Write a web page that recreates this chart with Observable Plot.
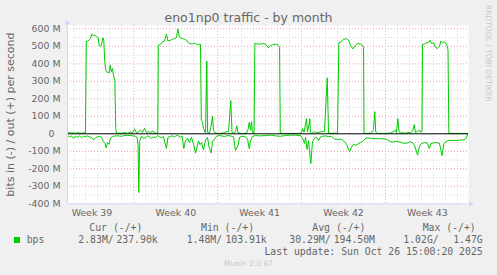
<!DOCTYPE html>
<html><head><meta charset="utf-8">
<script src="https://cdn.jsdelivr.net/npm/d3@7"></script>
<script src="https://cdn.jsdelivr.net/npm/@observablehq/plot@0.6"></script>
<style>
html,body{margin:0;padding:0;background:#f0f0f0;}
#wrap{position:relative;width:497px;height:275px;overflow:hidden;background:#f0f0f0;font-family:"DejaVu Sans",sans-serif;color:#666;}
#wrap .t{position:absolute;white-space:pre;}
#wrap .mono{font-family:"DejaVu Sans Mono",monospace;font-size:9.8px;line-height:9.8px;}
</style></head><body><div id="wrap"></div>
<script>
// ---- texts ----
const title = "eno1np0 traffic - by month";
const yLabel = "bits in (-) / out (+) per second";
const sideText = "RRDTOOL / TOBI OETIKER";
// ---- x axis: days since Mon 2025-09-22 (start of week 39) ----
const weekStartDays = [0, 7, 14, 21, 28];
const weekLabels = ["Week 39", "Week 40", "Week 41", "Week 42", "Week 43"];
// ---- y axis ticks (M bits/s) ----
const yTicks = [-400, -300, -200, -100, 0, 100, 200, 300, 400, 500, 600];
// ---- out (+) series: day, Mbit/s ----
const outDays = [1.46,1.63,1.79,1.96,2.13,2.30,2.46,2.63,2.80,2.96,
3.03,3.13,3.26,3.38,3.49,3.61,3.74,3.91,4.02,4.11,
4.24,4.32,4.41,4.49,4.57,4.66,4.74,4.94,5.02,5.13,
5.22,5.30,5.41,5.49,5.55,5.72,5.97,6.22,6.47,6.72,
6.89,7.05,7.22,7.39,7.56,7.72,7.89,8.06,8.22,8.39,
8.56,8.72,8.89,9.00,9.04,9.22,9.39,9.56,9.72,9.85,
10.06,10.23,10.39,10.56,10.67,10.77,10.89,11.06,11.23,11.39,
11.56,11.73,11.89,12.06,12.23,12.40,12.56,12.63,12.73,12.81,
12.98,13.09,13.15,13.31,13.46,13.56,13.65,13.81,13.98,14.23,
14.48,14.65,14.90,15.09,15.19,15.32,15.48,15.59,15.69,15.90,
16.15,16.40,16.53,16.63,16.74,16.82,16.90,17.03,17.10,17.24,
17.49,17.74,17.99,18.24,18.41,18.57,18.82,18.99,19.16,19.22,
19.49,20.07,20.57,20.99,21.08,21.20,21.33,21.41,21.49,21.60,
21.69,21.74,21.83,22.08,22.25,22.58,22.91,23.14,23.25,23.50,
23.75,24.00,24.11,24.25,24.42,24.52,24.75,24.91,25.14,25.29,
25.42,25.58,25.71,25.92,26.08,26.17,26.21,26.42,26.75,26.92,
27.00,27.11,27.19,27.34,27.84,28.42,28.59,28.84,28.92,29.03,
29.13,29.26,29.42,29.67,29.84,30.09,30.26,30.40,30.51,30.68,
30.84,30.93,31.05,31.09,31.26,31.43,31.59,31.70,31.85,32.01,
32.20,32.35,32.51,32.62,32.76,32.93,33.10,33.22,33.29,33.85,
34.27,34.85];
const outMbps = [5,8,3,6,2,7,4,3,6,4,
529,529,535,545,571,560,564,554,550,506,
499,516,549,535,411,363,354,349,392,354,
373,335,306,30,2,4,3,8,2,10,
5,28,5,12,22,8,32,6,14,4,
18,3,5,6,506,510,526,530,570,530,
535,540,545,550,600,560,548,545,540,535,
520,515,513,518,512,510,512,75,70,30,
4,415,8,4,49,100,20,5,2,3,
6,10,14,190,8,3,12,46,6,2,
2,4,25,65,20,70,8,3,516,514,
512,516,512,491,505,508,512,510,495,3,
2,2,2,3,30,10,53,87,10,45,
86,5,2,12,6,10,14,320,6,2,
4,3,522,522,535,541,543,535,497,485,
500,512,516,512,505,495,3,2,4,12,
25,126,10,2,2,4,10,20,6,87,
15,3,6,3,8,6,14,52,8,14,
20,10,15,510,514,520,522,535,516,520,
491,488,500,529,522,524,515,480,3,2,
2,2];
// ---- in (-) series: day, Mbit/s (drawn below zero) ----
const inDays = [1.46,1.63,1.79,1.96,2.13,2.30,2.46,2.63,2.80,2.96,
3.13,3.30,3.46,3.63,3.80,3.96,4.13,4.30,4.47,4.59,
4.69,4.80,4.92,5.05,5.22,5.47,5.72,5.97,6.22,6.47,
6.72,6.97,7.14,7.26,7.35,7.41,7.49,7.64,7.80,7.97,
8.14,8.31,8.47,8.64,8.81,8.97,9.14,9.31,9.47,9.72,
9.85,10.06,10.23,10.39,10.56,10.73,10.89,11.02,11.17,11.31,
11.48,11.64,11.81,11.98,12.15,12.29,12.40,12.52,12.65,12.81,
12.98,13.15,13.27,13.46,13.56,13.73,13.90,14.07,14.32,14.57,
14.82,15.07,15.32,15.48,15.68,15.82,16.07,16.32,16.49,16.63,
16.74,16.90,17.15,17.57,17.99,18.41,18.82,19.24,19.66,20.07,
20.49,20.91,21.08,21.24,21.33,21.45,21.58,21.77,21.91,22.08,
22.25,22.41,22.58,22.75,23.00,23.25,23.50,23.75,24.00,24.25,
24.50,24.75,25.00,25.17,25.34,25.50,25.67,25.92,26.17,26.34,
26.75,27.17,27.59,28.00,28.42,28.67,28.92,29.09,29.34,29.59,
29.84,30.09,30.26,30.42,30.68,30.84,31.01,31.26,31.51,31.65,
31.80,32.01,32.26,32.51,32.72,32.88,33.05,33.30,33.64,33.97,
34.31,34.56,34.75,34.85];
const inMbps = [10,18,12,25,15,20,12,22,14,16,
12,18,20,35,22,18,15,20,45,55,
80,50,60,25,15,12,12,14,10,10,
10,12,15,20,60,335,40,15,25,22,
12,18,28,18,22,10,18,22,15,84,
20,14,12,18,10,12,20,12,84,40,
25,50,20,60,110,70,40,62,50,93,
35,20,75,110,45,30,14,10,12,16,
10,12,18,95,70,20,14,18,30,85,
40,14,10,12,10,8,12,14,10,8,
8,10,25,55,20,90,40,170,45,25,
20,40,18,14,12,16,15,30,32,30,
40,60,103,75,60,65,60,50,40,25,
25,28,28,30,45,48,42,45,50,55,
52,45,50,65,122,70,55,50,55,84,
55,52,50,55,125,55,45,38,38,38,
35,35,25,2];
// ---- legend ----
const seriesName = "bps";
const legendHeaders = ["Cur (-/+)", "Min (-/+)", "Avg (-/+)", "Max (-/+)"];
const legendIn = ["2.83M/", "1.48M/", "30.29M/", "1.02G/"];
const legendOut = ["237.90k", "103.91k", "194.50M", "1.47G"];
const lastUpdate = "Last update: Sun Oct 26 15:00:20 2025";
const version = "Munin 2.0.67";

// ---- build ----
const xDomain = [1.461, 34.93];
const yDomain = [-400, 620];
const outData = outDays.map((d, i) => ({d, v: outMbps[i]}));
const inData = inDays.map((d, i) => ({d, v: -inMbps[i]}));
const dayLines = d3.range(Math.ceil(xDomain[0]), xDomain[1]).filter(d => d % 7 !== 0);
const weekLines = weekStartDays.filter(d => d > xDomain[0] && d < xDomain[1]);
const minorY = d3.range(-350, 600, 100);
const majorY = yTicks.filter(v => v !== -400 && v !== 0);
const weekMid = new Map(weekStartDays.map((d, i) => [d + 3.5, weekLabels[i]]));
const gridGray = "#d6d6d6", gridRed = "#eba3a3", axisCol = "#CFD6F8", green = "#00cc00";

const chart = Plot.plot({
  width: 497, height: 222,
  marginLeft: 67, marginRight: 29, marginTop: 24.8, marginBottom: 18.7,
  x: {domain: xDomain, axis: null},
  y: {domain: yDomain, axis: null},
  style: {background: "transparent", color: "#666", fontFamily: '"DejaVu Sans", sans-serif', fontSize: "9.4px"},
  marks: [
    Plot.frame({fill: "white", stroke: "none"}),
    Plot.ruleX(dayLines, {stroke: gridGray, strokeDasharray: "1,2"}),
    Plot.ruleY(minorY, {stroke: gridGray, strokeDasharray: "1,2"}),
    Plot.ruleX(weekLines, {stroke: gridRed, strokeDasharray: "1,2"}),
    Plot.ruleY(majorY, {stroke: gridRed, strokeDasharray: "1,2"}),
    Plot.line(outData, {x: "d", y: "v", stroke: green, strokeWidth: 1}),
    Plot.line(inData, {x: "d", y: "v", stroke: green, strokeWidth: 1}),
    Plot.ruleY([0], {stroke: "#000", strokeWidth: 1}),
    Plot.ruleX([xDomain[0]], {stroke: axisCol}),
    Plot.ruleY([yDomain[0]], {stroke: axisCol}),
    Plot.dot([xDomain[0]], {x: d => d, y: () => yDomain[1], symbol: "triangle", r: 2, fill: axisCol, stroke: "none", dy: -2.3}),
    Plot.dot([xDomain[1]], {x: d => d, y: () => yDomain[0], symbol: "triangle", r: 2, fill: axisCol, stroke: "none", rotate: 90, dx: 2}),
    Plot.axisY(yTicks, {tickSize: 0, tickPadding: 7, label: null, fill: "#666",
      tickFormat: v => v === 0 ? "0\u00a0\u00a0" : v + " M"}),
    Plot.axisX([...weekMid.keys()], {tickSize: 0, tickPadding: 6, label: null, fill: "#666",
      tickFormat: d => weekMid.get(d)}),
    Plot.text([yLabel], {text: d => d, frameAnchor: "left", textAnchor: "middle", lineAnchor: "middle",
      rotate: -90, dx: -57, dy: 0, fill: "#666", fontSize: 11})
  ]
});
const wrap = document.getElementById("wrap");
chart.style.position = "absolute";
chart.style.left = "0px";
chart.style.top = "0px";
wrap.appendChild(chart);

function addText(str, cls, css) {
  const el = document.createElement("div");
  el.className = "t " + cls;
  el.textContent = str;
  Object.assign(el.style, css);
  wrap.appendChild(el);
  return el;
}
addText(title, "", {left: "0px", width: "497px", textAlign: "center", top: "12.4px", fontSize: "12.5px", lineHeight: "12.5px"});
addText(sideText, "", {left: "483.5px", top: "5px", fontSize: "7.5px", lineHeight: "8px", writingMode: "vertical-rl", color: "#c8c8c8"});

const headLeft = [89.3, 201, 312.3, 422.7];
const inLeft = [78.3, 186.7, 289.3, 403.3];
const outRight = [157.7, 266.7, 375, 482.7];
legendHeaders.forEach((h, i) => addText(h, "mono", {left: headLeft[i] + "px", top: "222.5px"}));
const sq = document.createElement("div");
Object.assign(sq.style, {position: "absolute", left: "14px", top: "237px", width: "6px", height: "6px", background: green});
wrap.appendChild(sq);
addText(seriesName, "mono", {left: "26.7px", top: "235.2px"});
legendIn.forEach((s, i) => addText(s, "mono", {left: inLeft[i] + "px", top: "235.2px"}));
legendOut.forEach((s, i) => addText(s, "mono", {right: (497 - outRight[i]) + "px", top: "235.2px"}));
addText(lastUpdate, "mono", {right: "14.3px", top: "246.9px"});
addText(version, "", {left: "0px", width: "497px", textAlign: "center", top: "260.4px", fontSize: "7.5px", lineHeight: "7.5px", color: "#c8c8c8"});
</script>
</body></html>
